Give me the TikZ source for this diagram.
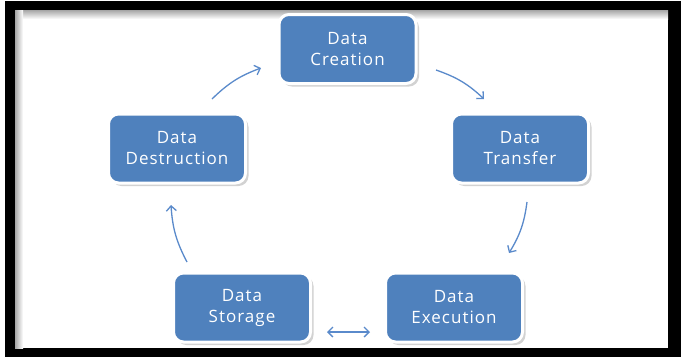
\documentclass[tikz,border=0pt]{standalone}
\usepackage{fontspec}
\setmainfont{Open Sans}
\newfontfamily\boxfont[LetterSpace=6]{Open Sans}
\usetikzlibrary{arrows.meta,shadows}
\definecolor{boxblue}{HTML}{4F81BD}
\definecolor{arrowblue}{HTML}{5A8ACB}
\tikzset{
  stagebox/.style={rounded corners=10pt, fill=boxblue, draw=white, line width=3pt,
    minimum width=137pt, minimum height=69pt, align=center, text=white,
    font=\boxfont\fontsize{17}{21}\selectfont,
    drop shadow={shadow xshift=3pt, shadow yshift=-3pt, opacity=0.35, fill=gray}},
  cycarrow/.style={draw=arrowblue, line width=1.3pt, -{Straight Barb[length=5pt,width=10pt]}},
  biarrow/.style={draw=arrowblue, line width=1.3pt, {Straight Barb[length=5pt,width=10pt]}-{Straight Barb[length=5pt,width=10pt]}}
}
\begin{document}
\begin{tikzpicture}[x=1pt,y=-1pt]
\useasboundingbox (0,0) rectangle (681,360);
% frame
\fill[black] (5,1) rectangle (681,357);
\fill[white] (15,10) rectangle (668,348);
\shade[top color=gray!70, bottom color=white] (15,10) rectangle (668,19);
\shade[left color=gray!70, right color=white] (15,10) rectangle (23,348);
% nodes
\node[stagebox] (creation) at (347.5,49) {Data\\Creation};
\node[stagebox] (transfer) at (520,148.5) {Data\\Transfer};
\node[stagebox] (destruction) at (177,148.5) {Data\\Destruction};
\node[stagebox] (storage) at (242,307.5) {Data\\Storage};
\node[stagebox] (execution) at (454,307.5) {Data\\Execution};
% arrow end points
\coordinate (a1s) at (212,99);
\coordinate (a1e) at (261,68);
\coordinate (a2s) at (436,70);
\coordinate (a2e) at (484,99);
\coordinate (a3s) at (527,202);
\coordinate (a3e) at (509,253);
\coordinate (a4s) at (327,332);
\coordinate (a4e) at (370,332);
\coordinate (a5s) at (187,262);
\coordinate (a5e) at (171,205);
\draw[cycarrow] (a1s) to[bend left=12] (a1e);
\draw[cycarrow] (a2s) to[bend left=12] (a2e);
\draw[cycarrow] (a3s) to[bend left=12] (a3e);
\draw[biarrow] (a4s) -- (a4e);
\draw[cycarrow] (a5s) to[bend left=12] (a5e);
\end{tikzpicture}
\end{document}
